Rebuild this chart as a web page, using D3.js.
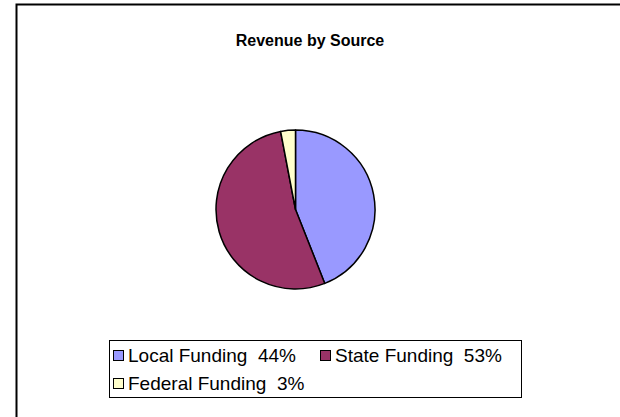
<!DOCTYPE html>
<html><head><meta charset="utf-8">
<script src="https://cdn.jsdelivr.net/npm/d3@7"></script>
<style>html,body{margin:0;background:#fff;overflow:hidden}svg{display:block;overflow:hidden}text{font-family:"Liberation Sans",Arial,sans-serif}</style>
</head><body>
<svg id="c" width="620" height="417"></svg>
<script>
const categories = ["Local Funding", "State Funding", "Federal Funding"];
const values = [44, 53, 3];
const colors = ["#9999FF", "#993366", "#FFFFCC"];
const title = "Revenue by Source";

const svg = d3.select("#c");
svg.append("path").attr("d", "M620,4.5H16.5V417")
  .attr("fill", "none").attr("stroke", "#000").attr("stroke-width", 2);

svg.append("text").attr("x", 310).attr("y", 46).attr("text-anchor", "middle")
  .attr("font-weight", "bold").attr("font-size", 16).text(title);

const data = categories.map((c, i) => ({name: c, value: values[i], color: colors[i]}));
const pie = d3.pie().value(d => d.value).sort(null);
const arc = d3.arc().innerRadius(0).outerRadius(79.5);
const g = svg.append("g").attr("transform", "translate(295.5,209.5)");
g.selectAll("path").data(pie(data)).join("path")
  .attr("d", arc).attr("fill", d => d.data.color)
  .attr("stroke", "#000").attr("stroke-width", 1.5).attr("stroke-linejoin", "round");

// legend
const lg = svg.append("g");
lg.append("rect").attr("x", 109.5).attr("y", 340.5).attr("width", 412).attr("height", 57)
  .attr("fill", "#fff").attr("stroke", "#000").attr("stroke-width", 1);
const items = [
  {x: 113, y: 355, i: 0},
  {x: 320, y: 355, i: 1},
  {x: 113, y: 383, i: 2}
];
items.forEach(it => {
  const d = data[it.i];
  lg.append("rect").attr("x", it.x + 0.5).attr("y", it.y - 4.5).attr("width", 10).attr("height", 10)
    .attr("fill", d.color).attr("stroke", "#000").attr("stroke-width", 1);
  lg.append("text").attr("x", it.x + 15).attr("y", it.y + 7).attr("font-size", 19)
    .attr("xml:space", "preserve").style("white-space", "pre")
    .text(d.name + "  " + d.value + "%");
});
</script>
</body></html>
